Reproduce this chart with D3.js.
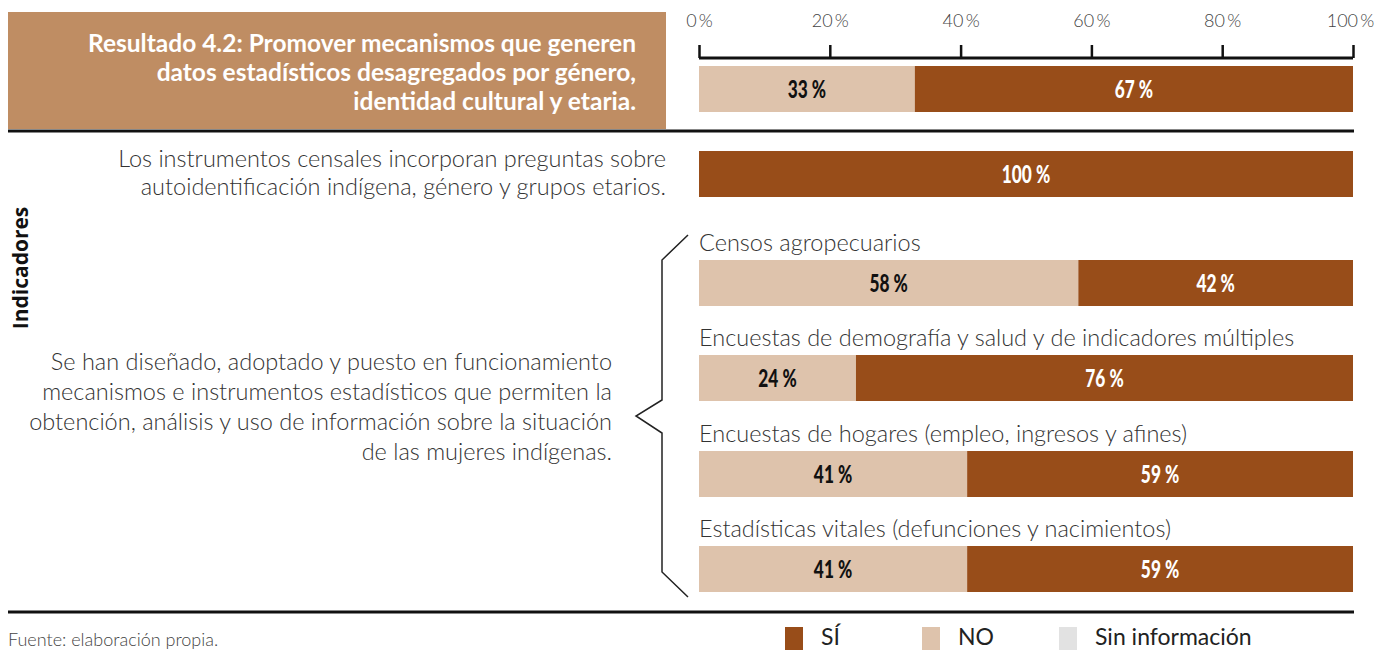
<!DOCTYPE html>
<html>
<head>
<meta charset="utf-8">
<script src="https://cdn.jsdelivr.net/npm/d3@7"></script>
<style>
  body { margin: 0; background: #fff; }
  svg { font-family: Lato, "Open Sans", sans-serif; }
</style>
</head>
<body>
<svg width="1376" height="650"></svg>
<script>
// rows of the chart, top to bottom
const rowNames = ['resultado', 'censales', 'agro', 'demo', 'hogares', 'vitales'];
const subLabels = ['', '', 'Censos agropecuarios',
  'Encuestas de demografía y salud y de indicadores múltiples',
  'Encuestas de hogares (empleo, ingresos y afines)',
  'Estadísticas vitales (defunciones y nacimientos)'];
const noValues = [33, 0, 58, 24, 41, 41];
const siValues = [67, 100, 42, 76, 59, 59];
const tickValues = [0, 20, 40, 60, 80, 100];

const titleLines = ['Resultado 4.2: Promover mecanismos que generen',
  'datos estadísticos desagregados por género,',
  'identidad cultural y etaria.'];
const censalLines = ['Los instrumentos censales incorporan preguntas sobre',
  'autoidentificación indígena, género y grupos etarios.'];
const mecLines = ['Se han diseñado, adoptado y puesto en funcionamiento',
  'mecanismos e instrumentos estadísticos que permiten la',
  'obtención, análisis y uso de información sobre la situación',
  'de las mujeres indígenas.'];
const legendNames = ['SÍ', 'NO', 'Sin información'];

const colors = {si: '#984d19', no: '#dec3ac', sin: '#e2e2e2', title: '#bf8d63'};

const svg = d3.select('svg');

const x = d3.scaleLinear().domain([0, 100]).range([699, 1353]);
// top y of each bar
const barTop = [66, 151, 260, 355, 451, 546];
const barH = 46;

// title box
svg.append('rect').attr('x', 8).attr('y', 12).attr('width', 658).attr('height', 117)
  .attr('fill', colors.title);
svg.selectAll('.tline').data(titleLines).enter().append('text')
  .attr('x', 636).attr('y', (d, i) => 52 + i * 29)
  .attr('text-anchor', 'end').attr('fill', '#fff')
  .style('font-size', '24.5px').style('font-weight', 700)
  .text(d => d);

// axis on top
const axis = d3.axisTop(x).tickValues(tickValues).tickSize(13).tickFormat(d => d + '\u2009%');
const ag = svg.append('g').attr('transform', 'translate(0,58)').call(axis);
ag.select('.domain').attr('d', 'M699,0H1353').attr('stroke', '#111').attr('stroke-width', 3);
ag.selectAll('.tick line').attr('stroke', '#111').attr('stroke-width', 2.5);
ag.selectAll('.tick text').attr('y', -31).attr('fill', '#444')
  .style('font-size', '18px').style('font-weight', 300).style('font-family', 'Lato');
// last label sits a bit inside, like the reference
ag.selectAll('.tick text').filter(d => d === 100).attr('x', -3);

// separator lines
svg.append('line').attr('x1', 8).attr('x2', 1354).attr('y1', 131).attr('y2', 131)
  .attr('stroke', '#111').attr('stroke-width', 3);
svg.append('line').attr('x1', 8).attr('x2', 1354).attr('y1', 612).attr('y2', 612)
  .attr('stroke', '#111').attr('stroke-width', 3);

// bars
rowNames.forEach((r, i) => {
  const g = svg.append('g');
  const segs = [
    {v: noValues[i], x0: 0, c: colors.no, t: '#111'},
    {v: siValues[i], x0: noValues[i], c: colors.si, t: '#fff'}
  ].filter(s => s.v > 0);
  g.selectAll('rect').data(segs).enter().append('rect')
    .attr('x', s => x(s.x0)).attr('y', barTop[i])
    .attr('width', s => x(s.x0 + s.v) - x(s.x0)).attr('height', barH)
    .attr('fill', s => s.c);
  // condensed looking numbers
  g.selectAll('text').data(segs).enter().append('text')
    .attr('transform', s => 'translate(' + x(s.x0 + s.v / 2) + ',' + (barTop[i] + barH / 2 + 9) + ') scale(0.72,1)')
    .attr('text-anchor', 'middle').attr('fill', s => s.t)
    .style('font-size', '24px').style('font-weight', 900)
    .text(s => s.v + ' %');
  if (subLabels[i]) {
    svg.append('text').attr('x', 699).attr('y', barTop[i] - 9)
      .attr('fill', '#333').style('font-size', '23.5px').style('font-weight', 300)
      .text(subLabels[i]);
  }
});

// indicator text
svg.selectAll('.cl').data(censalLines).enter().append('text')
  .attr('x', 666).attr('y', (d, i) => 167 + i * 28)
  .attr('text-anchor', 'end').attr('fill', '#333')
  .style('font-size', '23.5px').style('font-weight', 300).text(d => d);
svg.selectAll('.ml').data(mecLines).enter().append('text')
  .attr('x', 612).attr('y', (d, i) => 370 + i * 30)
  .attr('text-anchor', 'end').attr('fill', '#333')
  .style('font-size', '23.5px').style('font-weight', 300).text(d => d);

// bracket
svg.append('path')
  .attr('d', 'M688,235L662,260L662,400L636,416L662,433L662,572L688,597')
  .attr('fill', 'none').attr('stroke', '#222').attr('stroke-width', 1.5);

// vertical label
svg.append('text').attr('transform', 'translate(28,268) rotate(-90)')
  .attr('text-anchor', 'middle').attr('fill', '#111')
  .style('font-family', '"Open Sans", sans-serif')
  .style('font-size', '21px').style('font-weight', 700).text('Indicadores');

// source
svg.append('text').attr('x', 8).attr('y', 646).attr('fill', '#444')
  .style('font-size', '18px').style('font-weight', 300).text('Fuente: elaboración propia.');

// legend
const legX = [785, 922, 1059];
const legC = [colors.si, colors.no, colors.sin];
const lg = svg.selectAll('.leg').data(legendNames).enter().append('g');
lg.append('rect').attr('x', (d, i) => legX[i]).attr('y', 627).attr('width', 18).attr('height', 23)
  .attr('fill', (d, i) => legC[i]);
lg.append('text').attr('x', (d, i) => legX[i] + 36).attr('y', 645)
  .attr('fill', '#222').style('font-size', '23px').style('font-weight', 400).text(d => d);
</script>
</body>
</html>
